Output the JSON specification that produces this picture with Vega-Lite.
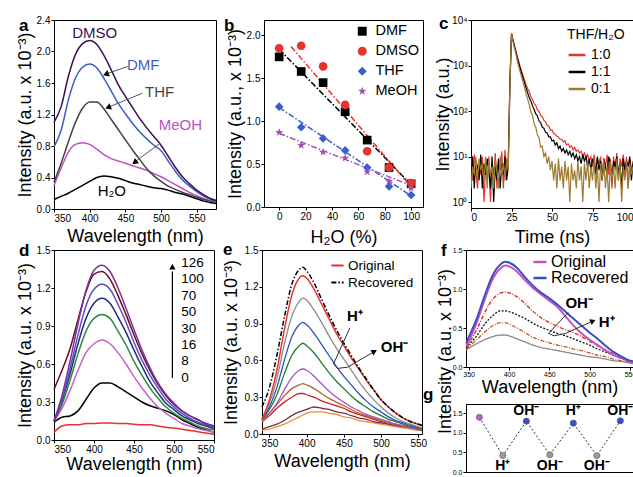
{
"$schema":"https://vega.github.io/schema/vega-lite/v6.json",
"background":"white",
"padding":{"left":15,"top":14,"right":0,"bottom":0},
"config":{
 "font":"Liberation Sans",
 "view":{"stroke":"black","strokeWidth":1},
 "axis":{"domainColor":"black","tickColor":"black","labelColor":"black","titleColor":"black","tickSize":3,"labelPadding":1,"titlePadding":3,"labelFontSize":10,"titleFontSize":18,"titleFontWeight":"normal","grid":false,"labelFont":"Liberation Sans","titleFont":"Liberation Sans"},
 "legend":{"labelFont":"Liberation Sans","titleFont":"Liberation Sans","labelColor":"black","titleColor":"black","padding":0},
 "text":{"font":"Liberation Sans"}
},
"datasets":{
 "a":[
  {"w":350,"DMSO":1.10,"DMF":0.79,"THF":0.34,"MeOH":0.30,"H2O":0.12},
  {"w":360,"DMSO":1.30,"DMF":1.00,"THF":0.58,"MeOH":0.52,"H2O":0.16},
  {"w":370,"DMSO":1.68,"DMF":1.38,"THF":0.85,"MeOH":0.72,"H2O":0.20},
  {"w":380,"DMSO":1.96,"DMF":1.66,"THF":1.10,"MeOH":0.82,"H2O":0.25},
  {"w":390,"DMSO":2.10,"DMF":1.80,"THF":1.28,"MeOH":0.84,"H2O":0.30},
  {"w":400,"DMSO":2.14,"DMF":1.84,"THF":1.36,"MeOH":0.82,"H2O":0.35},
  {"w":410,"DMSO":2.09,"DMF":1.79,"THF":1.36,"MeOH":0.76,"H2O":0.40},
  {"w":420,"DMSO":1.95,"DMF":1.66,"THF":1.27,"MeOH":0.69,"H2O":0.42},
  {"w":430,"DMSO":1.77,"DMF":1.50,"THF":1.14,"MeOH":0.64,"H2O":0.41},
  {"w":440,"DMSO":1.58,"DMF":1.34,"THF":1.01,"MeOH":0.61,"H2O":0.39},
  {"w":450,"DMSO":1.43,"DMF":1.21,"THF":0.88,"MeOH":0.58,"H2O":0.36},
  {"w":460,"DMSO":1.29,"DMF":1.09,"THF":0.75,"MeOH":0.55,"H2O":0.33},
  {"w":470,"DMSO":1.15,"DMF":0.98,"THF":0.63,"MeOH":0.52,"H2O":0.31},
  {"w":480,"DMSO":1.03,"DMF":0.89,"THF":0.51,"MeOH":0.49,"H2O":0.29},
  {"w":490,"DMSO":0.92,"DMF":0.81,"THF":0.42,"MeOH":0.45,"H2O":0.27},
  {"w":500,"DMSO":0.81,"DMF":0.74,"THF":0.35,"MeOH":0.41,"H2O":0.26},
  {"w":510,"DMSO":0.67,"DMF":0.61,"THF":0.29,"MeOH":0.36,"H2O":0.24},
  {"w":520,"DMSO":0.53,"DMF":0.48,"THF":0.25,"MeOH":0.31,"H2O":0.21},
  {"w":530,"DMSO":0.41,"DMF":0.37,"THF":0.21,"MeOH":0.26,"H2O":0.19},
  {"w":540,"DMSO":0.32,"DMF":0.29,"THF":0.18,"MeOH":0.21,"H2O":0.16},
  {"w":550,"DMSO":0.24,"DMF":0.22,"THF":0.15,"MeOH":0.17,"H2O":0.13},
  {"w":560,"DMSO":0.18,"DMF":0.16,"THF":0.12,"MeOH":0.13,"H2O":0.10},
  {"w":570,"DMSO":0.13,"DMF":0.12,"THF":0.10,"MeOH":0.10,"H2O":0.08},
  {"w":577,"DMSO":0.11,"DMF":0.10,"THF":0.09,"MeOH":0.09,"H2O":0.07}
 ],
 "alab":[
  {"w":407,"y":2.23,"s":"DMSO","lab":"DMSO"},
  {"w":475,"y":1.83,"s":"DMF","lab":"DMF"},
  {"w":498,"y":1.48,"s":"THF","lab":"THF"},
  {"w":527,"y":1.07,"s":"MeOH","lab":"MeOH"},
  {"w":431,"y":0.23,"s":"H2O","lab":"H₂O"}
 ],
 "aarr":[
  {"id":"DMF","w":453,"y":1.81,"w2":425,"y2":1.72},
  {"id":"THF","w":474,"y":1.47,"w2":428,"y2":1.30},
  {"id":"MeOH","w":498,"y":0.83,"w2":465,"y2":0.61}
 ],
 "ahead":[
  {"id":"DMF","w":424,"y":1.715},
  {"id":"THF","w":427,"y":1.295},
  {"id":"MeOH","w":464,"y":0.60}
 ],
 "bpts":[
  {"s":"DMF","w":0,"y":1.75},{"s":"DMF","w":16.7,"y":1.58},{"s":"DMF","w":33.3,"y":1.45},{"s":"DMF","w":50,"y":1.11},{"s":"DMF","w":66.7,"y":0.78},{"s":"DMF","w":83.3,"y":0.46},{"s":"DMF","w":100,"y":0.27},
  {"s":"DMSO","w":0,"y":1.85},{"s":"DMSO","w":16.7,"y":1.88},{"s":"DMSO","w":33.3,"y":1.64},{"s":"DMSO","w":50,"y":1.19},{"s":"DMSO","w":66.7,"y":0.65},{"s":"DMSO","w":83.3,"y":0.46},{"s":"DMSO","w":100,"y":0.28},
  {"s":"THF","w":0,"y":1.17},{"s":"THF","w":16.7,"y":0.93},{"s":"THF","w":33.3,"y":0.80},{"s":"THF","w":50,"y":0.66},{"s":"THF","w":66.7,"y":0.46},{"s":"THF","w":83.3,"y":0.24},{"s":"THF","w":100,"y":0.14},
  {"s":"MeOH","w":0,"y":0.87},{"s":"MeOH","w":16.7,"y":0.72},{"s":"MeOH","w":33.3,"y":0.64},{"s":"MeOH","w":50,"y":0.57},{"s":"MeOH","w":66.7,"y":0.41},{"s":"MeOH","w":83.3,"y":0.30},{"s":"MeOH","w":100,"y":0.22}
 ],
 "blines":[
  {"s":"DMF","w":0,"y":1.84},{"s":"DMF","w":100,"y":0.26},
  {"s":"DMSO","w":9,"y":1.87},{"s":"DMSO","w":97.5,"y":0.28},
  {"s":"THF","w":0,"y":1.16},{"s":"THF","w":100,"y":0.13},
  {"s":"MeOH","w":0,"y":0.86},{"s":"MeOH","w":100,"y":0.25}
 ],
 "c":[
  {"w":0,"r":9,"k":4,"g":2},{"w":1,"r":3,"k":10,"g":6},{"w":2,"r":11,"k":2,"g":4},{"w":3,"r":5,"k":8,"g":10},{"w":4,"r":2,"k":6,"g":3},
  {"w":5,"r":8,"k":3,"g":9},{"w":6,"r":4,"k":11,"g":5},{"w":7,"r":10,"k":2,"g":7},{"w":8,"r":1,"k":7,"g":3},{"w":9,"r":6,"k":4,"g":10},
  {"w":10,"r":3,"k":9,"g":2},{"w":11,"r":10,"k":5,"g":8},{"w":12,"r":1,"k":2,"g":4},{"w":13,"r":7,"k":10,"g":6},{"w":14,"r":4,"k":1,"g":2},
  {"w":15,"r":12,"k":6,"g":9},{"w":16,"r":2,"k":3,"g":5},{"w":17,"r":8,"k":9,"g":2},{"w":18,"r":5,"k":2,"g":10},{"w":19,"r":13,"k":7,"g":4},
  {"w":20,"r":2,"k":4,"g":7},{"w":21,"r":14,"k":10,"g":3},{"w":22,"r":4,"k":3,"g":9},{"w":23,"r":10,"k":6,"g":5},{"w":24,"r":400,"k":380,"g":350},
  {"w":25,"r":5000,"k":5000,"g":5000},{"w":26,"r":3600,"k":3500,"g":3300},{"w":27,"r":2600,"k":2500,"g":2300},{"w":28,"r":1900,"k":1800,"g":1600},{"w":29,"r":1400,"k":1300,"g":1100},
  {"w":30,"r":1050,"k":950,"g":800},{"w":31,"r":800,"k":720,"g":600},{"w":32,"r":620,"k":550,"g":450},{"w":33,"r":480,"k":420,"g":330},{"w":34,"r":380,"k":320,"g":240},
  {"w":35,"r":310,"k":250,"g":180},{"w":36,"r":265,"k":195,"g":135},{"w":37,"r":205,"k":165,"g":95},{"w":38,"r":180,"k":128,"g":78},{"w":39,"r":145,"k":108,"g":52},
  {"w":40,"r":132,"k":86,"g":44},{"w":41,"r":106,"k":78,"g":30},{"w":42,"r":98,"k":60,"g":26},{"w":43,"r":80,"k":56,"g":16},{"w":44,"r":75,"k":44,"g":17},
  {"w":45,"r":62,"k":42,"g":10},{"w":46,"r":58,"k":34,"g":12},{"w":47,"r":48,"k":33,"g":7},{"w":48,"r":47,"k":27,"g":10},{"w":49,"r":38,"k":27,"g":5},
  {"w":50,"r":38,"k":22,"g":8},{"w":51,"r":32,"k":23,"g":3},{"w":52,"r":31,"k":18,"g":7},{"w":53,"r":28,"k":20,"g":2},{"w":54,"r":27,"k":15,"g":9},
  {"w":55,"r":24,"k":17,"g":3},{"w":56,"r":24,"k":13,"g":6},{"w":57,"r":21,"k":15,"g":2},{"w":58,"r":22,"k":12,"g":8},{"w":59,"r":18,"k":14,"g":3},
  {"w":60,"r":19,"k":11,"g":6},{"w":61,"r":16,"k":13,"g":1},{"w":62,"r":17,"k":10,"g":7},{"w":63,"r":14,"k":12,"g":3},{"w":64,"r":16,"k":9,"g":5},
  {"w":65,"r":13,"k":11,"g":2},{"w":66,"r":14,"k":8,"g":8},{"w":67,"r":12,"k":10,"g":3},{"w":68,"r":13,"k":7,"g":6},{"w":69,"r":10,"k":11,"g":1},
  {"w":70,"r":12,"k":8,"g":7},{"w":71,"r":9,"k":10,"g":3},{"w":72,"r":11,"k":6,"g":8},{"w":73,"r":8,"k":9,"g":2},{"w":74,"r":10,"k":5,"g":6},
  {"w":75,"r":6,"k":9,"g":3},{"w":76,"r":11,"k":7,"g":9},{"w":77,"r":5,"k":4,"g":2},{"w":78,"r":9,"k":10,"g":6},{"w":79,"r":7,"k":5,"g":1},
  {"w":80,"r":10,"k":8,"g":7},{"w":81,"r":3,"k":3,"g":3},{"w":82,"r":9,"k":9,"g":9},{"w":83,"r":6,"k":6,"g":2},{"w":84,"r":11,"k":4,"g":6},
  {"w":85,"r":4,"k":10,"g":1},{"w":86,"r":9,"k":7,"g":8},{"w":87,"r":2,"k":3,"g":3},{"w":88,"r":10,"k":8,"g":6},{"w":89,"r":5,"k":6,"g":2},
  {"w":90,"r":12,"k":10,"g":9},{"w":91,"r":3,"k":4,"g":3},{"w":92,"r":9,"k":7,"g":7},{"w":93,"r":6,"k":2,"g":1},{"w":94,"r":11,"k":9,"g":6},
  {"w":95,"r":4,"k":5,"g":3},{"w":96,"r":10,"k":8,"g":8},{"w":97,"r":2,"k":6,"g":2},{"w":98,"r":9,"k":10,"g":7},{"w":99,"r":5,"k":3,"g":4},
  {"w":100,"r":8,"k":7,"g":6}
 ],
 "d":[
  {"w":350,"c0":0.06,"c8":0.14,"c16":0.15,"c30":0.15,"c50":0.15,"c70":0.15,"c100":0.40,"c126":0.15},
  {"w":360,"c0":0.11,"c8":0.18,"c16":0.25,"c30":0.28,"c50":0.31,"c70":0.32,"c100":0.55,"c126":0.35},
  {"w":370,"c0":0.12,"c8":0.19,"c16":0.39,"c30":0.47,"c50":0.52,"c70":0.56,"c100":0.72,"c126":0.62},
  {"w":380,"c0":0.12,"c8":0.23,"c16":0.55,"c30":0.68,"c50":0.76,"c70":0.83,"c100":0.95,"c126":0.92},
  {"w":390,"c0":0.13,"c8":0.32,"c16":0.69,"c30":0.86,"c50":0.96,"c70":1.06,"c100":1.17,"c126":1.18},
  {"w":400,"c0":0.13,"c8":0.41,"c16":0.76,"c30":0.96,"c50":1.08,"c70":1.19,"c100":1.31,"c126":1.34},
  {"w":410,"c0":0.135,"c8":0.45,"c16":0.79,"c30":0.99,"c50":1.12,"c70":1.23,"c100":1.33,"c126":1.38},
  {"w":420,"c0":0.135,"c8":0.45,"c16":0.76,"c30":0.96,"c50":1.08,"c70":1.19,"c100":1.27,"c126":1.33},
  {"w":430,"c0":0.13,"c8":0.42,"c16":0.69,"c30":0.86,"c50":0.97,"c70":1.07,"c100":1.14,"c126":1.20},
  {"w":440,"c0":0.13,"c8":0.38,"c16":0.60,"c30":0.75,"c50":0.85,"c70":0.93,"c100":0.99,"c126":1.04},
  {"w":450,"c0":0.125,"c8":0.34,"c16":0.50,"c30":0.62,"c50":0.71,"c70":0.77,"c100":0.83,"c126":0.87},
  {"w":460,"c0":0.12,"c8":0.30,"c16":0.41,"c30":0.51,"c50":0.58,"c70":0.63,"c100":0.68,"c126":0.71},
  {"w":470,"c0":0.12,"c8":0.27,"c16":0.33,"c30":0.41,"c50":0.46,"c70":0.51,"c100":0.55,"c126":0.57},
  {"w":480,"c0":0.11,"c8":0.25,"c16":0.26,"c30":0.33,"c50":0.37,"c70":0.41,"c100":0.44,"c126":0.45},
  {"w":490,"c0":0.10,"c8":0.23,"c16":0.21,"c30":0.26,"c50":0.29,"c70":0.32,"c100":0.35,"c126":0.36},
  {"w":500,"c0":0.095,"c8":0.20,"c16":0.17,"c30":0.21,"c50":0.24,"c70":0.26,"c100":0.28,"c126":0.29},
  {"w":510,"c0":0.085,"c8":0.16,"c16":0.13,"c30":0.17,"c50":0.19,"c70":0.21,"c100":0.23,"c126":0.23},
  {"w":520,"c0":0.075,"c8":0.13,"c16":0.11,"c30":0.14,"c50":0.16,"c70":0.17,"c100":0.19,"c126":0.19},
  {"w":530,"c0":0.065,"c8":0.10,"c16":0.09,"c30":0.11,"c50":0.13,"c70":0.14,"c100":0.16,"c126":0.16},
  {"w":540,"c0":0.055,"c8":0.08,"c16":0.075,"c30":0.09,"c50":0.11,"c70":0.12,"c100":0.13,"c126":0.13},
  {"w":550,"c0":0.045,"c8":0.06,"c16":0.063,"c30":0.08,"c50":0.09,"c70":0.10,"c100":0.11,"c126":0.11}
 ],
 "dnum":[
  {"w":509,"y":1.40,"lab":"126"},{"w":509,"y":1.27,"lab":"100"},{"w":509,"y":1.14,"lab":"70"},{"w":509,"y":1.01,"lab":"50"},
  {"w":509,"y":0.88,"lab":"30"},{"w":509,"y":0.75,"lab":"16"},{"w":509,"y":0.62,"lab":"8"},{"w":509,"y":0.49,"lab":"0"}
 ],
 "darr":[{"w":498,"y":0.49,"w2":498,"y2":1.33}],
 "dhead":[{"w":498,"y":1.36}],
 "e":[
  {"w":340,"Recovered":0.22,"Original":0.12,"gy":0.12,"bl":0.12,"gr":0.12,"pu":0.12,"br":0.10,"dr":0.10,"mr":0.04,"or":0.03},
  {"w":350,"Recovered":0.38,"Original":0.28,"gy":0.25,"bl":0.22,"gr":0.20,"pu":0.17,"br":0.17,"dr":0.15,"mr":0.06,"or":0.04},
  {"w":360,"Recovered":0.64,"Original":0.52,"gy":0.45,"bl":0.38,"gr":0.32,"pu":0.25,"br":0.24,"dr":0.21,"mr":0.08,"or":0.06},
  {"w":370,"Recovered":0.95,"Original":0.85,"gy":0.73,"bl":0.60,"gr":0.49,"pu":0.36,"br":0.31,"dr":0.26,"mr":0.11,"or":0.08},
  {"w":380,"Recovered":1.22,"Original":1.13,"gy":0.96,"bl":0.79,"gr":0.64,"pu":0.46,"br":0.37,"dr":0.30,"mr":0.15,"or":0.11},
  {"w":390,"Recovered":1.34,"Original":1.27,"gy":1.08,"bl":0.89,"gr":0.72,"pu":0.52,"br":0.40,"dr":0.33,"mr":0.18,"or":0.14},
  {"w":395,"Recovered":1.36,"Original":1.29,"gy":1.11,"bl":0.91,"gr":0.74,"pu":0.53,"br":0.41,"dr":0.33,"mr":0.19,"or":0.155},
  {"w":400,"Recovered":1.33,"Original":1.27,"gy":1.09,"bl":0.89,"gr":0.72,"pu":0.52,"br":0.40,"dr":0.32,"mr":0.20,"or":0.17},
  {"w":410,"Recovered":1.23,"Original":1.18,"gy":1.01,"bl":0.82,"gr":0.66,"pu":0.47,"br":0.37,"dr":0.30,"mr":0.22,"or":0.18},
  {"w":420,"Recovered":1.10,"Original":1.06,"gy":0.91,"bl":0.73,"gr":0.58,"pu":0.41,"br":0.33,"dr":0.27,"mr":0.21,"or":0.18},
  {"w":430,"Recovered":0.97,"Original":0.94,"gy":0.80,"bl":0.64,"gr":0.50,"pu":0.35,"br":0.29,"dr":0.25,"mr":0.20,"or":0.17},
  {"w":440,"Recovered":0.85,"Original":0.82,"gy":0.70,"bl":0.55,"gr":0.43,"pu":0.30,"br":0.26,"dr":0.23,"mr":0.18,"or":0.16},
  {"w":450,"Recovered":0.74,"Original":0.72,"gy":0.61,"bl":0.47,"gr":0.37,"pu":0.26,"br":0.23,"dr":0.21,"mr":0.17,"or":0.14},
  {"w":460,"Recovered":0.64,"Original":0.62,"gy":0.52,"bl":0.40,"gr":0.31,"pu":0.22,"br":0.20,"dr":0.18,"mr":0.15,"or":0.13},
  {"w":470,"Recovered":0.54,"Original":0.53,"gy":0.43,"bl":0.33,"gr":0.26,"pu":0.19,"br":0.17,"dr":0.16,"mr":0.13,"or":0.11},
  {"w":480,"Recovered":0.45,"Original":0.44,"gy":0.35,"bl":0.27,"gr":0.22,"pu":0.16,"br":0.15,"dr":0.14,"mr":0.12,"or":0.10},
  {"w":490,"Recovered":0.36,"Original":0.36,"gy":0.28,"bl":0.22,"gr":0.18,"pu":0.14,"br":0.13,"dr":0.12,"mr":0.10,"or":0.09},
  {"w":500,"Recovered":0.28,"Original":0.28,"gy":0.22,"bl":0.18,"gr":0.15,"pu":0.12,"br":0.11,"dr":0.10,"mr":0.09,"or":0.08},
  {"w":510,"Recovered":0.22,"Original":0.22,"gy":0.17,"bl":0.14,"gr":0.12,"pu":0.10,"br":0.09,"dr":0.09,"mr":0.08,"or":0.07},
  {"w":520,"Recovered":0.17,"Original":0.17,"gy":0.13,"bl":0.11,"gr":0.10,"pu":0.08,"br":0.08,"dr":0.07,"mr":0.07,"or":0.06},
  {"w":530,"Recovered":0.13,"Original":0.13,"gy":0.10,"bl":0.09,"gr":0.08,"pu":0.07,"br":0.06,"dr":0.06,"mr":0.06,"or":0.05},
  {"w":540,"Recovered":0.10,"Original":0.10,"gy":0.08,"bl":0.07,"gr":0.06,"pu":0.05,"br":0.05,"dr":0.05,"mr":0.05,"or":0.04},
  {"w":550,"Recovered":0.08,"Original":0.08,"gy":0.06,"bl":0.05,"gr":0.05,"pu":0.04,"br":0.04,"dr":0.04,"mr":0.04,"or":0.03},
  {"w":555,"Recovered":0.07,"Original":0.07,"gy":0.05,"bl":0.05,"gr":0.04,"pu":0.04,"br":0.04,"dr":0.04,"mr":0.03,"or":0.03}
 ],
 "etxt":[{"w":465,"y":0.96,"lab":"H⁺"},{"w":518,"y":0.71,"lab":"OH⁻"}],
 "earr":[{"o":1,"w":458,"y":0.865},{"o":2,"w":436,"y":0.57},{"o":3,"w":442,"y":0.535},{"o":4,"w":455,"y":0.545},{"o":5,"w":489,"y":0.665}],
 "ehead":[{"w":490,"y":0.67}],
 "f":[
  {"w":347,"Recovered":0.31,"Original":0.27,"rd":0.25,"bk":0.24,"ob":0.23,"gy":0.22},
  {"w":350,"Recovered":0.38,"Original":0.33,"rd":0.30,"bk":0.28,"ob":0.26,"gy":0.24},
  {"w":360,"Recovered":0.62,"Original":0.57,"rd":0.48,"bk":0.40,"ob":0.35,"gy":0.30},
  {"w":370,"Recovered":0.92,"Original":0.87,"rd":0.70,"bk":0.55,"ob":0.45,"gy":0.35},
  {"w":380,"Recovered":1.18,"Original":1.13,"rd":0.87,"bk":0.66,"ob":0.53,"gy":0.39},
  {"w":390,"Recovered":1.32,"Original":1.27,"rd":0.95,"bk":0.72,"ob":0.57,"gy":0.41},
  {"w":395,"Recovered":1.35,"Original":1.30,"rd":0.96,"bk":0.72,"ob":0.57,"gy":0.41},
  {"w":400,"Recovered":1.34,"Original":1.29,"rd":0.95,"bk":0.71,"ob":0.55,"gy":0.40},
  {"w":410,"Recovered":1.27,"Original":1.22,"rd":0.90,"bk":0.67,"ob":0.50,"gy":0.36},
  {"w":420,"Recovered":1.15,"Original":1.11,"rd":0.81,"bk":0.62,"ob":0.44,"gy":0.32},
  {"w":430,"Recovered":1.04,"Original":1.01,"rd":0.71,"bk":0.56,"ob":0.38,"gy":0.28},
  {"w":440,"Recovered":0.95,"Original":0.93,"rd":0.63,"bk":0.51,"ob":0.34,"gy":0.25},
  {"w":450,"Recovered":0.88,"Original":0.85,"rd":0.57,"bk":0.47,"ob":0.31,"gy":0.23},
  {"w":460,"Recovered":0.80,"Original":0.77,"rd":0.52,"bk":0.43,"ob":0.28,"gy":0.21},
  {"w":470,"Recovered":0.71,"Original":0.65,"rd":0.48,"bk":0.40,"ob":0.26,"gy":0.19},
  {"w":480,"Recovered":0.62,"Original":0.53,"rd":0.44,"bk":0.36,"ob":0.23,"gy":0.17},
  {"w":490,"Recovered":0.53,"Original":0.43,"rd":0.39,"bk":0.32,"ob":0.21,"gy":0.15},
  {"w":500,"Recovered":0.44,"Original":0.35,"rd":0.33,"bk":0.28,"ob":0.18,"gy":0.13},
  {"w":510,"Recovered":0.36,"Original":0.28,"rd":0.27,"bk":0.23,"ob":0.15,"gy":0.12},
  {"w":520,"Recovered":0.27,"Original":0.21,"rd":0.22,"bk":0.19,"ob":0.13,"gy":0.10},
  {"w":530,"Recovered":0.19,"Original":0.15,"rd":0.17,"bk":0.15,"ob":0.10,"gy":0.08},
  {"w":540,"Recovered":0.13,"Original":0.11,"rd":0.12,"bk":0.11,"ob":0.08,"gy":0.07},
  {"w":550,"Recovered":0.08,"Original":0.07,"rd":0.08,"bk":0.08,"ob":0.06,"gy":0.05},
  {"w":553.7,"Recovered":0.07,"Original":0.06,"rd":0.07,"bk":0.07,"ob":0.05,"gy":0.04}
 ],
 "ftxt":[{"w":487,"y":0.82,"lab":"OH⁻"},{"w":521,"y":0.58,"lab":"H⁺"}],
 "farr":[{"o":1,"w":473.5,"y":0.70},{"o":2,"w":449,"y":0.43},{"o":3,"w":456,"y":0.40},{"o":4,"w":470,"y":0.43},{"o":5,"w":501,"y":0.575}],
 "fhead":[{"w":503,"y":0.585}],
 "g":[
  {"w":1,"y":1.40,"k":"orig"},{"w":2,"y":0.42,"k":"low"},{"w":3,"y":1.30,"k":"high"},{"w":4,"y":0.44,"k":"low"},
  {"w":5,"y":1.25,"k":"high"},{"w":6,"y":0.42,"k":"low"},{"w":7,"y":1.31,"k":"high"}
 ],
 "gtxt":[
  {"w":3,"y":1.57,"lab":"OH⁻"},{"w":5,"y":1.57,"lab":"H⁺"},{"w":7,"y":1.57,"lab":"OH⁻"},
  {"w":2,"y":0.16,"lab":"H⁺"},{"w":4,"y":0.16,"lab":"OH⁻"},{"w":6,"y":0.16,"lab":"OH⁻"}
 ],
 "letters":[
  {"p":"a","w":301,"y":2.26},{"p":"b","w":-41.8,"y":2.052},{"p":"c","w":-19.8,"y":6340},{"p":"d","w":306.25,"y":1.453},
  {"p":"e","w":287.6,"y":1.459},{"p":"f","w":315.7,"y":1.423},{"p":"g","w":-1.4,"y":1.84}
 ]
},
"spacing":-7,
"resolve":{"scale":{"color":"independent","shape":"independent","stroke":"independent","strokeDash":"independent"}},
"vconcat":[
 {"bounds":"flush","spacing":48,
  "resolve":{"scale":{"color":"independent","shape":"independent","stroke":"independent","strokeDash":"independent"}},
  "hconcat":[
  {
   "width":162,"height":189,
   "encoding":{
    "x":{"field":"w","type":"quantitative","scale":{"domain":[350,577],"nice":false,"zero":false},"axis":{"values":[350,400,450,500,550],"title":"Wavelength (nm)","titleY":32,"titleBaseline":"alphabetic"}},
    "y":{"field":"y","type":"quantitative","scale":{"domain":[0,2.4],"nice":false,"zero":false},"axis":{"values":[0,0.4,0.8,1.2,1.6,2.0,2.4],"format":".1f","title":"Intensity (a.u. x 10⁻³)","titleX":-20}}
   },
   "layer":[
    {"data":{"name":"a"},"transform":[{"fold":["H2O","MeOH","THF","DMF","DMSO"],"as":["s","y"]}],
     "mark":{"type":"line","strokeWidth":1.5,"interpolate":"monotone"},
     "encoding":{"color":{"field":"s","type":"nominal","scale":{"domain":["DMSO","DMF","THF","MeOH","H2O"],"range":["#3b1156","#3d5ec4","#444444","#c24fc2","#000000"]},"legend":null}}},
    {"data":{"name":"aarr"},"mark":{"type":"rule","color":"#555555","strokeWidth":1},"encoding":{"x2":{"field":"w2"},"y2":{"field":"y2"}}},
    {"data":{"name":"ahead"},"transform":[{"filter":"datum.id=='DMF'"}],"mark":{"type":"point","shape":"triangle","angle":249,"filled":true,"color":"black","size":45,"opacity":1}},
    {"data":{"name":"ahead"},"transform":[{"filter":"datum.id=='THF'"}],"mark":{"type":"point","shape":"triangle","angle":248,"filled":true,"color":"black","size":45,"opacity":1}},
    {"data":{"name":"ahead"},"transform":[{"filter":"datum.id=='MeOH'"}],"mark":{"type":"point","shape":"triangle","angle":232,"filled":true,"color":"black","size":45,"opacity":1}},
    {"data":{"name":"alab"},"mark":{"type":"text","fontSize":15},
     "encoding":{"text":{"field":"lab"},"color":{"field":"s","type":"nominal","scale":{"domain":["DMSO","DMF","THF","MeOH","H2O"],"range":["#3b1156","#3d5ec4","#444444","#c24fc2","#000000"]},"legend":null}}},
    {"data":{"name":"letters"},"transform":[{"filter":"datum.p=='a'"}],"mark":{"type":"text","fontSize":17,"fontWeight":"bold","align":"left","baseline":"alphabetic","color":"black"},"encoding":{"text":{"field":"p"}}}
   ]
  },
  {
   "width":159,"height":187,
   "encoding":{
    "x":{"field":"w","type":"quantitative","scale":{"domain":[-11.5,109],"nice":false,"zero":false},"axis":{"values":[0,20,40,60,80,100],"title":"H₂O (%)","titleY":35,"titleBaseline":"alphabetic"}},
    "y":{"field":"y","type":"quantitative","scale":{"domain":[0,2.18],"nice":false,"zero":false},"axis":{"values":[0,0.5,1,1.5,2],"format":".1f","title":"Intensity (a.u., x 10⁻³)","titleX":-20}}
   },
   "layer":[
    {"data":{"name":"blines"},"transform":[{"filter":"datum.s=='DMF'"}],"mark":{"type":"line","strokeWidth":1.5,"strokeDash":[6,2,1.5,2],"color":"#000000"},"encoding":{}},
    {"data":{"name":"blines"},"transform":[{"filter":"datum.s=='DMSO'"}],"mark":{"type":"line","strokeWidth":1.5,"strokeDash":[6,2,1.5,2],"color":"#e8322b"},"encoding":{}},
    {"data":{"name":"blines"},"transform":[{"filter":"datum.s=='THF'"}],"mark":{"type":"line","strokeWidth":1.5,"strokeDash":[6,2,1.5,2],"color":"#3a5fc8"},"encoding":{}},
    {"data":{"name":"blines"},"transform":[{"filter":"datum.s=='MeOH'"}],"mark":{"type":"line","strokeWidth":1.5,"strokeDash":[6,2,1.5,2],"color":"#a24fb5"},"encoding":{}},
    {"data":{"name":"bpts"},"mark":{"type":"point","filled":true,"size":75,"opacity":1},
     "encoding":{
      "color":{"field":"s","type":"nominal","scale":{"domain":["DMF","DMSO","THF","MeOH"],"range":["#000000","#e8322b","#3a5fc8","#a24fb5"]},"legend":{"title":null,"orient":"top-right","offset":4,"labelFontSize":14.5,"symbolSize":80,"rowPadding":5,"labelOffset":6}},
      "shape":{"field":"s","type":"nominal","scale":{"domain":["DMF","DMSO","THF","MeOH"],"range":["square","circle","diamond","M0,-1L0.235,-0.324L0.951,-0.309L0.38,0.124L0.588,0.809L0,0.4L-0.588,0.809L-0.38,0.124L-0.951,-0.309L-0.235,-0.324Z"]},"legend":{"title":null,"orient":"top-right","offset":4,"labelFontSize":14.5,"symbolSize":80,"rowPadding":5,"labelOffset":6}}
     }},
    {"data":{"name":"letters"},"transform":[{"filter":"datum.p=='b'"}],"mark":{"type":"text","fontSize":17,"fontWeight":"bold","align":"left","baseline":"alphabetic","color":"black"},"encoding":{"text":{"field":"p"}}}
   ]
  },
  {
   "width":162,"height":188,
   "encoding":{
    "x":{"field":"w","type":"quantitative","scale":{"domain":[0,100],"nice":false,"zero":false},"axis":{"values":[0,25,50,75,100],"title":"Time (ns)","titleY":34,"titleBaseline":"alphabetic"}},
    "y":{"field":"y","type":"quantitative","scale":{"type":"log","domain":[0.74,10000],"nice":false},"axis":{"values":[1,10,100,1000,10000],"labelExpr":"datum.value==1?'10⁰':datum.value==10?'10¹':datum.value==100?'10²':datum.value==1000?'10³':'10⁴'","title":"Intensity (a.u.)","titleX":-19}}
   },
   "layer":[
    {"data":{"name":"c"},"transform":[{"fold":["r","k","g"],"as":["s","y"]},{"filter":"datum.s=='r'"}],"mark":{"type":"line","strokeWidth":1.2,"clip":true},
     "encoding":{"color":{"field":"s","type":"nominal","scale":{"domain":["r","k","g"],"range":["#e8322b","#000000","#9e7b32"]},
      "legend":{"title":"THF/H₂O","orient":"top-right","offset":8,"titleFontSize":14,"titleFontWeight":"normal","labelFontSize":14,"symbolType":"stroke","symbolSize":280,"symbolStrokeWidth":2.5,"rowPadding":0,"titlePadding":3,"labelExpr":"datum.label=='r'?'1:0':datum.label=='k'?'1:1':'0:1'"}}}},
    {"data":{"name":"c"},"transform":[{"fold":["r","k","g"],"as":["s","y"]},{"filter":"datum.s=='k'"}],"mark":{"type":"line","strokeWidth":1.2,"clip":true},
     "encoding":{"color":{"field":"s","type":"nominal","scale":{"domain":["r","k","g"],"range":["#e8322b","#000000","#9e7b32"]},
      "legend":{"title":"THF/H₂O","orient":"top-right","offset":8,"titleFontSize":14,"titleFontWeight":"normal","labelFontSize":14,"symbolType":"stroke","symbolSize":280,"symbolStrokeWidth":2.5,"rowPadding":0,"titlePadding":3,"labelExpr":"datum.label=='r'?'1:0':datum.label=='k'?'1:1':'0:1'"}}}},
    {"data":{"name":"c"},"transform":[{"fold":["r","k","g"],"as":["s","y"]},{"filter":"datum.s=='g'"}],"mark":{"type":"line","strokeWidth":1.2,"clip":true},
     "encoding":{"color":{"field":"s","type":"nominal","scale":{"domain":["r","k","g"],"range":["#e8322b","#000000","#9e7b32"]},
      "legend":{"title":"THF/H₂O","orient":"top-right","offset":8,"titleFontSize":14,"titleFontWeight":"normal","labelFontSize":14,"symbolType":"stroke","symbolSize":280,"symbolStrokeWidth":2.5,"rowPadding":0,"titlePadding":3,"labelExpr":"datum.label=='r'?'1:0':datum.label=='k'?'1:1':'0:1'"}}}},
    {"data":{"name":"letters"},"transform":[{"filter":"datum.p=='c'"}],"mark":{"type":"text","fontSize":17,"fontWeight":"bold","align":"left","baseline":"alphabetic","color":"black"},"encoding":{"text":{"field":"p"}}}
   ]
  }
 ]},
 {"spacing":-6,
  "resolve":{"scale":{"color":"independent","shape":"independent","stroke":"independent","strokeDash":"independent"}},
  "hconcat":[
  {"spacing":3,
   "resolve":{"scale":{"color":"independent","shape":"independent","stroke":"independent","strokeDash":"independent"}},
   "hconcat":[
   {
    "width":160,"height":190,
    "encoding":{
     "x":{"field":"w","type":"quantitative","scale":{"domain":[350,550],"nice":false,"zero":false},"axis":{"values":[350,400,450,500,550],"title":"Wavelength (nm)","titleY":29,"titleBaseline":"alphabetic"}},
     "y":{"field":"y","type":"quantitative","scale":{"domain":[0,1.5],"nice":false,"zero":false},"axis":{"values":[0,0.3,0.6,0.9,1.2,1.5],"format":".1f","title":"Intensity (a.u. x 10⁻³)","titleX":-20}}
    },
    "layer":[
     {"data":{"name":"d"},"transform":[{"fold":["c0","c8","c16","c30","c50","c70","c100","c126"],"as":["s","y"]}],
      "mark":{"type":"line","strokeWidth":1.5,"interpolate":"monotone"},
      "encoding":{"color":{"field":"s","type":"nominal","scale":{"domain":["c0","c8","c16","c30","c50","c70","c100","c126"],"range":["#e8322b","#000000","#c464c8","#2e8b3a","#232d80","#5b4fc4","#6e0d1e","#7b2f9c"]},"legend":null}}},
     {"data":{"name":"darr"},"mark":{"type":"rule","color":"black","strokeWidth":1.2},"encoding":{"x2":{"field":"w2"},"y2":{"field":"y2"}}},
     {"data":{"name":"dhead"},"mark":{"type":"point","shape":"triangle","filled":true,"color":"black","size":40,"opacity":1}},
     {"data":{"name":"dnum"},"mark":{"type":"text","fontSize":13.5,"align":"left","baseline":"middle","color":"black"},"encoding":{"text":{"field":"lab"}}},
     {"data":{"name":"letters"},"transform":[{"filter":"datum.p=='d'"}],"mark":{"type":"text","fontSize":17,"fontWeight":"bold","align":"left","baseline":"alphabetic","color":"black"},"encoding":{"text":{"field":"p"}}}
    ]
   },
   {
    "width":160,"height":184,
    "encoding":{
     "x":{"field":"w","type":"quantitative","scale":{"domain":[340,555],"nice":false,"zero":false},"axis":{"values":[350,400,450,500,550],"title":"Wavelength (nm)","titleY":32,"titleBaseline":"alphabetic"}},
     "y":{"field":"y","type":"quantitative","scale":{"domain":[0,1.5],"nice":false,"zero":false},"axis":{"values":[0,0.3,0.6,0.9,1.2,1.5],"format":".1f","title":"Intensity (a.u. x 10⁻³)","titleX":-22}}
    },
    "layer":[
     {"data":{"name":"e"},"transform":[{"fold":["or","mr","dr","br","pu","gr","bl","gy"],"as":["s","y"]}],
      "mark":{"type":"line","strokeWidth":1.3,"interpolate":"monotone"},
      "encoding":{"color":{"field":"s","type":"nominal","scale":{"domain":["gy","bl","gr","pu","br","dr","mr","or"],"range":["#8c8c8c","#2d4fc0","#1d7a30","#a352c4","#b5652d","#cc2222","#6b3344","#f08a3c"]},"legend":null}}},
     {"data":{"name":"e"},"transform":[{"fold":["Original","Recovered"],"as":["s","y"]}],
      "mark":{"type":"line","strokeWidth":1.5,"interpolate":"monotone"},
      "encoding":{
       "color":{"field":"s","type":"nominal","scale":{"domain":["Original","Recovered"],"range":["#e8322b","#000000"]},"legend":{"title":null,"orient":"top-right","offset":8,"labelFontSize":13.5,"symbolType":"stroke","symbolSize":150,"symbolStrokeWidth":2,"rowPadding":3,"labelOffset":3}},
       "strokeDash":{"field":"s","type":"nominal","scale":{"domain":["Original","Recovered"],"range":[[1,0],[5,2,1.5,2]]},"legend":{"title":null,"orient":"top-right","offset":8,"labelFontSize":13.5,"symbolType":"stroke","symbolSize":150,"symbolStrokeWidth":2,"rowPadding":3,"labelOffset":3}}
      }},
     {"data":{"name":"earr"},"mark":{"type":"line","color":"#333333","strokeWidth":1},"encoding":{"order":{"field":"o","type":"quantitative"}}},
     {"data":{"name":"ehead"},"mark":{"type":"point","shape":"triangle","angle":62,"filled":true,"color":"black","size":40,"opacity":1}},
     {"data":{"name":"etxt"},"mark":{"type":"text","fontSize":15,"fontWeight":"bold","color":"black"},"encoding":{"text":{"field":"lab"}}},
     {"data":{"name":"letters"},"transform":[{"filter":"datum.p=='e'"}],"mark":{"type":"text","fontSize":17,"fontWeight":"bold","align":"left","baseline":"alphabetic","color":"black"},"encoding":{"text":{"field":"p"}}}
    ],
    "resolve":{"scale":{"color":"independent","strokeDash":"independent"}}
   }
  ]},
  {"bounds":"flush","spacing":37,
   "resolve":{"scale":{"color":"independent","shape":"independent","stroke":"independent","strokeDash":"independent"}},
   "vconcat":[
   {
    "width":167,"height":117,
    "encoding":{
     "x":{"field":"w","type":"quantitative","scale":{"domain":[346.7,553.7],"nice":false,"zero":false},"axis":{"values":[350,400,450,500,550],"labelFontSize":7,"labelPadding":0,"title":"Wavelength (nm)","titleY":25,"titleBaseline":"alphabetic"}},
     "y":{"field":"y","type":"quantitative","scale":{"domain":[0,1.5],"nice":false,"zero":false},"axis":{"values":[0,0.5,1,1.5],"format":".1f","labelFontSize":7,"title":"Intensity (a.u. x 10⁻³)","titleY":101,"titleX":-12}}
    },
    "layer":[
     {"data":{"name":"f"},"transform":[{"fold":["gy","ob","bk","rd"],"as":["s","y"]}],
      "mark":{"type":"line","strokeWidth":1.3,"interpolate":"monotone"},
      "encoding":{
       "color":{"field":"s","type":"nominal","scale":{"domain":["rd","bk","ob","gy"],"range":["#e0231f","#111111","#c4561f","#8a8a8a"]},"legend":null},
       "strokeDash":{"field":"s","type":"nominal","scale":{"domain":["rd","bk","ob","gy"],"range":[[4,1.5,1,1.5],[2,1.5],[4,1.5,1,1.5],[1,0]]},"legend":null}
      }},
     {"data":{"name":"f"},"transform":[{"fold":["Original","Recovered"],"as":["s","y"]}],
      "mark":{"type":"line","strokeWidth":2,"interpolate":"monotone"},
      "encoding":{"color":{"field":"s","type":"nominal","scale":{"domain":["Original","Recovered"],"range":["#c454c4","#3b4fc2"]},"legend":{"title":null,"orient":"top-right","offset":4,"labelFontSize":16,"symbolType":"stroke","symbolSize":170,"symbolStrokeWidth":2.5,"rowPadding":0,"labelOffset":3}}}},
     {"data":{"name":"farr"},"mark":{"type":"line","color":"#333333","strokeWidth":1},"encoding":{"order":{"field":"o","type":"quantitative"}}},
     {"data":{"name":"fhead"},"mark":{"type":"point","shape":"triangle","angle":67,"filled":true,"color":"black","size":40,"opacity":1}},
     {"data":{"name":"ftxt"},"mark":{"type":"text","fontSize":15,"fontWeight":"bold","color":"black"},"encoding":{"text":{"field":"lab"}}},
     {"data":{"name":"letters"},"transform":[{"filter":"datum.p=='f'"}],"mark":{"type":"text","fontSize":17,"fontWeight":"bold","align":"left","baseline":"alphabetic","color":"black"},"encoding":{"text":{"field":"p"}}}
    ],
    "resolve":{"scale":{"color":"independent","strokeDash":"independent"}}
   },
   {
    "width":167,"height":68,
    "encoding":{
     "x":{"field":"w","type":"quantitative","scale":{"domain":[0.43,7.54],"nice":false,"zero":false},"axis":null},
     "y":{"field":"y","type":"quantitative","scale":{"domain":[0,1.74],"nice":false,"zero":false},"axis":{"values":[0,0.5,1,1.5],"format":".1f","labelFontSize":7,"title":null}}
    },
    "layer":[
     {"data":{"name":"g"},"mark":{"type":"line","color":"#333333","strokeWidth":1,"strokeDash":[2,2]},"encoding":{}},
     {"data":{"name":"g"},"mark":{"type":"point","filled":true,"size":40,"opacity":1,"stroke":"#555555","strokeWidth":0.5},
      "encoding":{"color":{"field":"k","type":"nominal","scale":{"domain":["orig","low","high"],"range":["#b366c4","#9a9a9a","#3a50c0"]},"legend":null}}},
     {"data":{"name":"gtxt"},"mark":{"type":"text","fontSize":14,"fontWeight":"bold","color":"black"},"encoding":{"text":{"field":"lab"}}},
     {"data":{"name":"letters"},"transform":[{"filter":"datum.p=='g'"}],"mark":{"type":"text","fontSize":17,"fontWeight":"bold","align":"left","baseline":"alphabetic","color":"black"},"encoding":{"text":{"field":"p"}}}
    ]
   }
  ]}
 ]}
]
}
